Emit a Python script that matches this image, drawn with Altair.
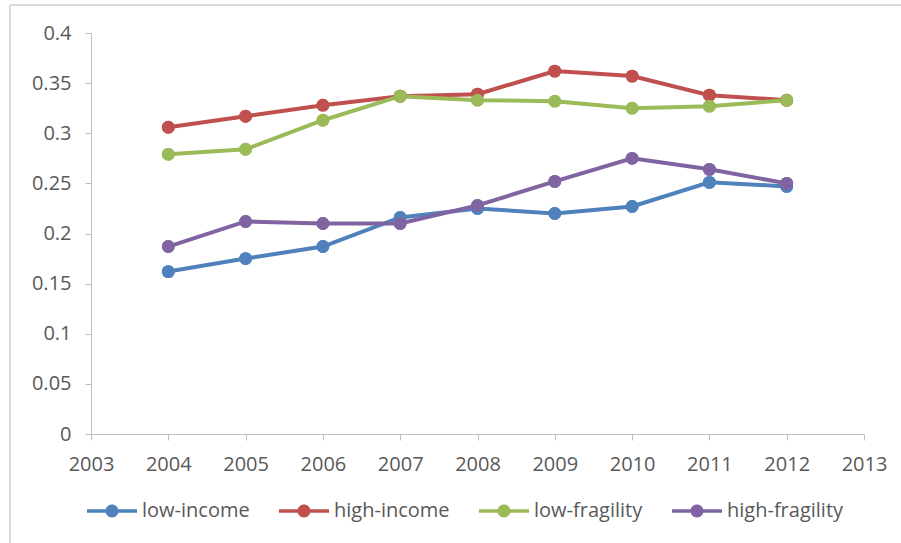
import altair as alt
import pandas as pd

years = [2004, 2005, 2006, 2007, 2008, 2009, 2010, 2011, 2012]
series_names = ["low-income", "high-income", "low-fragility", "high-fragility"]
low_income = [0.162, 0.175, 0.187, 0.216, 0.225, 0.220, 0.227, 0.251, 0.247]
high_income = [0.306, 0.317, 0.328, 0.337, 0.339, 0.362, 0.357, 0.338, 0.333]
low_fragility = [0.279, 0.284, 0.313, 0.337, 0.333, 0.332, 0.325, 0.327, 0.333]
high_fragility = [0.187, 0.212, 0.210, 0.210, 0.228, 0.252, 0.275, 0.264, 0.250]
colors = ["#4F81BD", "#C0504D", "#9BBB59", "#8064A2"]

rows = []
for name, vals in zip(series_names, [low_income, high_income, low_fragility, high_fragility]):
    for yr, v in zip(years, vals):
        rows.append({"year": yr, "value": v, "series": name})
df = pd.DataFrame(rows)

FONT = "Open Sans"
GRAY = "#595959"
AXIS = "#BFBFBF"
FS = 20

legend_path = ("M-3.85,-0.26L3.85,-0.26L3.85,0.26L-3.85,0.26Z "
               "M-1,0A1,1,0,1,1,1,0A1,1,0,1,1,-1,0Z")

x = alt.X("year:Q", scale=alt.Scale(domain=[2003, 2013], nice=False, zero=False),
          axis=alt.Axis(values=list(range(2003, 2014)), format="d", title=None,
                        grid=False, tickSize=6, labelPadding=14, labelFlush=False,
                        labelOverlap=False,
                        labelFont=FONT, labelFontSize=FS, labelColor=GRAY,
                        domainColor=AXIS, tickColor=AXIS, domainWidth=1, tickWidth=1))
y = alt.Y("value:Q", scale=alt.Scale(domain=[0, 0.4], nice=False),
          axis=alt.Axis(values=[i * 0.05 for i in range(9)], format=".2~f", title=None,
                        grid=False, tickSize=6, labelPadding=14, labelOverlap=False,
                        labelFont=FONT, labelFontSize=FS, labelColor=GRAY,
                        domainColor=AXIS, tickColor=AXIS, domainWidth=1, tickWidth=1))
color_legend = alt.Legend(title=None, orient="none", direction="horizontal",
                          legendX=-8, legendY=468, symbolType=legend_path,
                          symbolSize=169, symbolStrokeWidth=0, symbolOffset=19,
                          labelOffset=20, columnPadding=25, labelFont=FONT,
                          labelFontSize=FS, labelColor=GRAY)
color_scale = alt.Scale(domain=series_names, range=colors)
color = alt.Color("series:N", scale=color_scale, legend=color_legend)

base = alt.Chart(df)
pts_under = base.mark_point(filled=True, size=165, opacity=1).encode(x=x, y=y, color=color)
lines = base.mark_line(strokeWidth=4).encode(x=x, y=y, color=color)
pts = base.mark_point(filled=True, size=165, opacity=1).encode(x=x, y=y, color=color)

border_top = alt.Chart(df).mark_rule(color="#D9D9D9", strokeWidth=1).encode(
    x=alt.value(-81), x2=alt.value(815), y=alt.value(-28))
border_left = alt.Chart(df).mark_rule(color="#D9D9D9", strokeWidth=1).encode(
    x=alt.value(-81), y=alt.value(-28), y2=alt.value(515))

chart = alt.layer(border_top, border_left, pts_under, lines, pts).properties(
    width=773, height=401,
    padding={"left": 91, "top": 33, "right": 37, "bottom": 109},
    autosize=alt.AutoSizeParams(type="none"),
    background="white",
).configure_view(stroke=None)

chart.save("out.html", embed_options={"renderer": "svg", "actions": False})
